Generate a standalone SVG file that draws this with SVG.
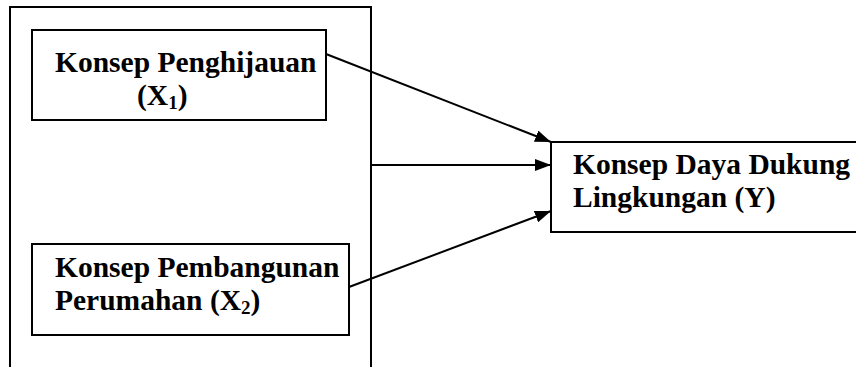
<svg xmlns="http://www.w3.org/2000/svg" width="856" height="367" viewBox="0 0 856 367">
  <defs>
    <marker id="arrow" viewBox="0 0 16 12" refX="16" refY="6" markerWidth="16" markerHeight="12" markerUnits="userSpaceOnUse" orient="auto">
      <path d="M0,0 L16,6 L0,12 z" fill="#000"/>
    </marker>
    <style>
      .box { fill: #fff; stroke: #000; stroke-width: 2; }
      .frame { fill: none; stroke: #000; stroke-width: 2; }
      .lbl { font-family: "Liberation Serif", "Times New Roman", serif; font-weight: bold; font-size: 29.5px; fill: #000; }
      .sub { font-size: 19px; }
      .edge { fill: none; stroke: #000; stroke-width: 2; marker-end: url(#arrow); }
    </style>
  </defs>
  <rect width="856" height="367" fill="#fff"/>

  <!-- grouping frame around the independent variables (open at the bottom) -->
  <g id="frame">
    <path class="frame" d="M10,367 V7 H371 V367"/>
  </g>

  <g id="x1">
    <rect class="box" x="32" y="30" width="294" height="90"/>
    <text class="lbl" x="55" y="72">Konsep Penghijauan</text>
    <text class="lbl" x="137" y="105">(X<tspan class="sub" dy="4">1</tspan><tspan dy="-4">)</tspan></text>
  </g>

  <g id="x2">
    <rect class="box" x="32" y="244" width="317" height="91"/>
    <text class="lbl" x="55" y="277">Konsep Pembangunan</text>
    <text class="lbl" x="55" y="310">Perumahan (X<tspan class="sub" dy="4">2</tspan><tspan dy="-4">)</tspan></text>
  </g>

  <g id="y">
    <rect class="box" x="551" y="142" width="320" height="90"/>
    <text class="lbl" x="573" y="174">Konsep Daya Dukung</text>
    <text class="lbl" x="573" y="207">Lingkungan (Y)</text>
  </g>

  <g id="connectors">
    <line class="edge" x1="326" y1="54" x2="551" y2="142"/>
    <line class="edge" x1="371" y1="165" x2="551" y2="165"/>
    <line class="edge" x1="349" y1="287" x2="551" y2="211"/>
  </g>
</svg>
